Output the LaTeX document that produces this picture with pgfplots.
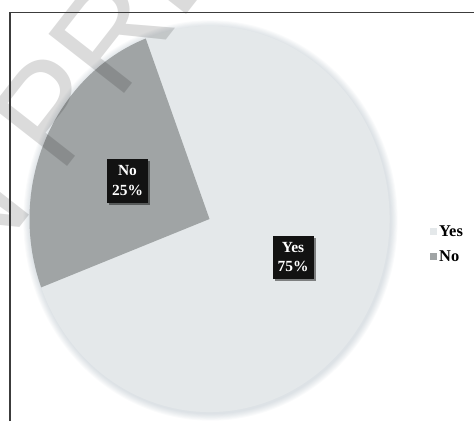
\documentclass[border=0pt]{standalone}
\usepackage{pgfplots}
\pgfplotsset{compat=1.18}
\usepackage{pgfplotstable}
\usepackage{fontspec}
\setmainfont{Liberation Serif}
\newfontfamily\wmfont{Liberation Sans}
\usetikzlibrary{shadows}
\definecolor{yescol}{RGB}{228,232,234}
\definecolor{nocol}{RGB}{160,164,165}
\definecolor{framecol}{RGB}{60,60,60}
\definecolor{glowcol}{RGB}{120,140,155}

\pgfplotstableread{
label value
Yes 75
No 25
}\piedata

\begin{document}
\begin{tikzpicture}
\pgfplotstablegetelem{0}{value}\of\piedata \let\yesval\pgfplotsretval
\pgfplotstablegetelem{1}{value}\of\piedata \let\noval\pgfplotsretval
\pgfmathsetmacro{\nostart}{110.75}
\pgfmathsetmacro{\noend}{\nostart+3.6*\noval}
\pgfmathsetmacro{\yesend}{\noend+3.6*\yesval}
\begin{axis}[
  scale only axis, width=474bp, height=416bp,
  xmin=0, xmax=474, ymin=0, ymax=416,
  hide axis, clip=false,
  legend style={at={(axis cs:427,172)}, anchor=west, draw=none, fill=none,
    font=\bfseries\fontsize{16.5}{18}\selectfont, row sep=9bp, cells={anchor=west}},
  legend image code/.code={\fill[#1] (0bp,-3.5bp) rectangle (7bp,3.5bp);},
]
\path (axis cs:0,0) rectangle (axis cs:474,416);
\pgfplotsinvokeforeach{1,...,8}{
  \fill[glowcol, opacity=0.035] (axis cs:210.5,195.5) ellipse [x radius={180bp+#1*0.9bp}, y radius={193bp+#1*0.9bp}];
}
\fill[yescol] (axis cs:209.5,197) -- ++(\noend:180bp and 193bp)
   arc[start angle=\noend, end angle=\yesend, x radius=180bp, y radius=193bp] -- cycle;
\fill[nocol] (axis cs:209.5,197) -- ++(\nostart:180bp and 193bp)
   arc[start angle=\nostart, end angle=\noend, x radius=180bp, y radius=193bp] -- cycle;
\node[overlay, rotate=52, anchor=base west, font=\wmfont\fontsize{140}{140}\selectfont,
  text=black, text opacity=0.14, inner sep=0pt] at (axis cs:60,240) {\llap{IN }PRESS};
\draw[overlay, framecol, line width=1.1bp] (axis cs:10,-5) -- (axis cs:10,403.3) -- (axis cs:480,403.3);
\node[fill=black!93, text=white, align=center, font=\bfseries\fontsize{15.5}{19.5}\selectfont,
  minimum width=41bp, minimum height=44bp, inner sep=1bp,
  drop shadow={shadow xshift=2bp, shadow yshift=-2bp, fill=black, opacity=0.45}]
  at (axis cs:127.5,235.5) {No\\25\%};
\node[fill=black!93, text=white, align=center, font=\bfseries\fontsize{15.5}{19.5}\selectfont,
  minimum width=41bp, minimum height=43bp, inner sep=1bp,
  drop shadow={shadow xshift=2bp, shadow yshift=-2bp, fill=black, opacity=0.45}]
  at (axis cs:293,159) {Yes\\75\%};
\addlegendimage{draw=none, fill=yescol}
\addlegendentry{Yes}
\addlegendimage{draw=none, fill=nocol}
\addlegendentry{No}
\end{axis}
\end{tikzpicture}
\end{document}
